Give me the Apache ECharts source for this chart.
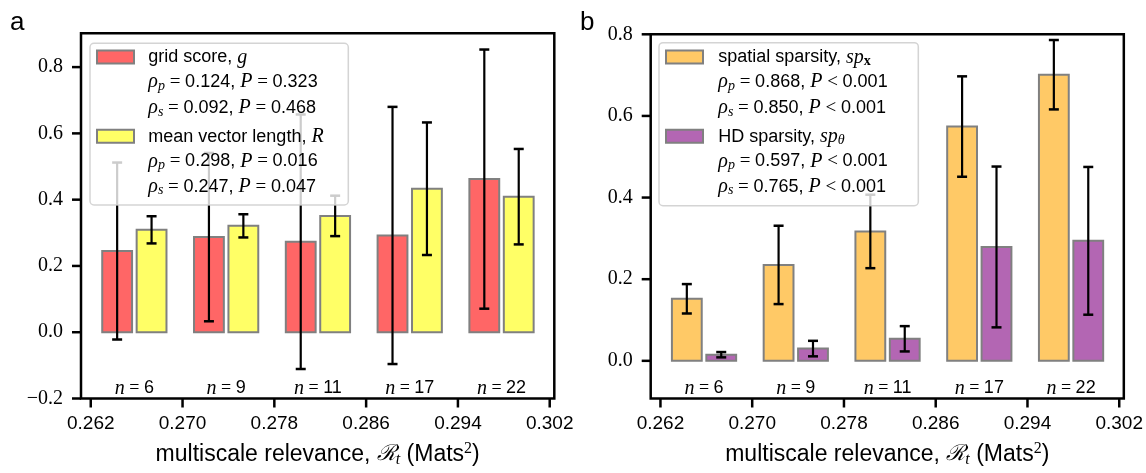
<!DOCTYPE html>
<html>
<head>
<meta charset="utf-8">
<script src="https://cdn.jsdelivr.net/npm/echarts@6/dist/echarts.min.js"></script>
<style>
html,body{margin:0;padding:0;background:#fff;}
#chart{width:1146px;height:473px;}
</style>
</head>
<body>
<div id="chart"></div>
<script>
// ---- data ----
const groupCenters = [0.2658, 0.2738, 0.2818, 0.2898, 0.2978];
const nCounts = [6, 9, 11, 17, 22];
const gridScore = [0.245, 0.287, 0.273, 0.292, 0.462];
const gridScoreErr = [0.267, 0.254, 0.384, 0.388, 0.391];
const meanVecLen = [0.309, 0.321, 0.351, 0.433, 0.409];
const meanVecLenErr = [0.041, 0.035, 0.061, 0.200, 0.144];
const spatialSparsity = [0.152, 0.235, 0.317, 0.574, 0.701];
const spatialSparsityErr = [0.036, 0.096, 0.090, 0.123, 0.085];
const hdSparsity = [0.015, 0.030, 0.054, 0.279, 0.294];
const hdSparsityErr = [0.0065, 0.019, 0.031, 0.197, 0.181];
const xTicks = [0.262, 0.270, 0.278, 0.286, 0.294, 0.302];
const yTicksA = [-0.2, 0, 0.2, 0.4, 0.6, 0.8];
const yTicksB = [0, 0.2, 0.4, 0.6, 0.8];
const statsA = [['0.124', '= 0.323', '0.092', '= 0.468'], ['0.298', '= 0.016', '0.247', '= 0.047']];
const statsB = [['0.868', '< 0.001', '0.850', '< 0.001'], ['0.597', '< 0.001', '0.765', '< 0.001']];

// ---- style ----
const SANS = 'Liberation Sans';
const SERIF = 'Liberation Serif';
const BAR_W = 0.0026, BAR_OFF = 0.0015;
const C_RED = '#ff6666', C_YEL = '#ffff66', C_ORA = '#ffc966', C_PUR = '#b366b3';
const X_MIN = 0.26115, X_MAX = 0.3024;
const Y_A = [-0.2, 0.902], Y_B = [-0.0923, 0.8];
const TICK_LEN = 9, TICK_W = 2.5;

const chart = echarts.init(document.getElementById('chart'), null, {renderer: 'canvas'});

function barSeries(ai, vals, offset, color) {
  return {
    type: 'custom', xAxisIndex: ai, yAxisIndex: ai, z: 2, clip: false,
    data: groupCenters.map((c, i) => [c + offset, vals[i]]),
    renderItem: (params, api) => {
      const x = api.value(0), y = api.value(1);
      const a = api.coord([x - BAR_W / 2, 0]);
      const b = api.coord([x + BAR_W / 2, y]);
      return {type: 'rect', shape: {x: a[0], y: Math.min(a[1], b[1]), width: b[0] - a[0], height: Math.abs(a[1] - b[1])},
        style: {fill: color, stroke: '#808080', lineWidth: 2}};
    }
  };
}
function errSeries(ai, vals, errs, offset) {
  return {
    type: 'custom', xAxisIndex: ai, yAxisIndex: ai, z: 3, clip: false,
    data: groupCenters.map((c, i) => [c + offset, vals[i], errs[i]]),
    renderItem: (params, api) => {
      const x = api.value(0), y = api.value(1), e = api.value(2);
      const t = api.coord([x, y + e]), b = api.coord([x, y - e]);
      return {type: 'group', children: [
        {type: 'line', shape: {x1: t[0], y1: t[1], x2: b[0], y2: b[1]}, style: {stroke: '#000', lineWidth: 2.2}},
        {type: 'line', shape: {x1: t[0] - 5, y1: t[1], x2: t[0] + 5, y2: t[1]}, style: {stroke: '#000', lineWidth: 2.5}},
        {type: 'line', shape: {x1: b[0] - 5, y1: b[1], x2: b[0] + 5, y2: b[1]}, style: {stroke: '#000', lineWidth: 2.5}}
      ]};
    }
  };
}
function nSeries(ai, yMin) {
  return {
    type: 'custom', xAxisIndex: ai, yAxisIndex: ai, z: 3, clip: false,
    data: groupCenters.map((c, i) => [c, nCounts[i]]),
    renderItem: (params, api) => {
      const p = api.coord([api.value(0), yMin]);
      return {type: 'text', x: p[0], y: p[1] - 10, style: {
        text: '{n|n}{e| = }{d|' + api.value(1) + '}', align: 'center', verticalAlign: 'middle',
        rich: {n: {fontFamily: SERIF, fontStyle: 'italic', fontSize: 20, lineHeight: 22},
               e: {fontFamily: SERIF, fontSize: 18, lineHeight: 22},
               d: {fontFamily: SANS, fontSize: 18, lineHeight: 22}}}};
    }
  };
}

const richLeg = {
  t: {fontFamily: SANS, fontSize: 18, lineHeight: 22, color: '#000'},
  mi: {fontFamily: SERIF, fontStyle: 'italic', fontSize: 20, lineHeight: 22, color: '#000'},
  eq: {fontFamily: SERIF, fontSize: 19, lineHeight: 22, color: '#000'},
  sub: {fontFamily: SERIF, fontStyle: 'italic', fontSize: 14, lineHeight: 14, padding: [8, 0, 0, 0], color: '#000'},
  subb: {fontFamily: SERIF, fontWeight: 'bold', fontSize: 14, lineHeight: 14, padding: [8, 0, 0, 0], color: '#000'}
};
function statRow(r, num, pv) {
  const op = pv.slice(0, 1), val = pv.slice(2);
  return '{mi|ρ}{sub|' + r + '}{eq| = }{t|' + num + ', }{mi|P}{eq| ' + op + ' }{t|' + val + '}';
}
function legendGraphics(box, patchX, textX, titles, colors, stats) {
  const rows = [57.5, 82.2, 108, 136.7, 161.3, 186.7];
  const g = [{type: 'rect', z: 100, shape: {x: box[0], y: box[1], width: box[2], height: box[3], r: 4},
    style: {fill: 'rgba(255,255,255,0.8)', stroke: 'rgba(204,204,204,0.85)', lineWidth: 1.5}}];
  [0, 1].forEach(k => {
    g.push({type: 'rect', z: 101, shape: {x: patchX, y: rows[k * 3] - 7, width: 37, height: 13},
      style: {fill: colors[k], stroke: '#808080', lineWidth: 2}});
    const texts = [titles[k], statRow('p', stats[k][0], stats[k][1]), statRow('s', stats[k][2], stats[k][3])];
    texts.forEach((tx, j) => g.push({type: 'text', z: 101, x: textX, y: rows[k * 3 + j],
      style: {text: tx, rich: richLeg, align: 'left', verticalAlign: 'middle'}}));
  });
  return g;
}

function xAxisDef(gi) {
  return {
    gridIndex: gi, type: 'value', min: X_MIN, max: X_MAX,
    axisLine: {show: false, onZero: false}, splitLine: {show: false},
    axisTick: {show: false},
    axisLabel: {customValues: xTicks, formatter: v => v.toFixed(3), fontFamily: SANS, fontSize: 19, color: '#000', margin: 16},
    name: '{t|multiscale relevance, }{R|ℛ}{s|t}{t| (Mats}{p|2}{t|)}',
    nameLocation: 'middle', nameGap: 43,
    nameTextStyle: {color: '#000', rich: {
      t: {fontFamily: SANS, fontSize: 23, lineHeight: 26, color: '#000'},
      R: {fontFamily: 'DejaVu Serif', fontStyle: 'italic', fontSize: 22, lineHeight: 26, color: '#000'},
      s: {fontFamily: SERIF, fontStyle: 'italic', fontSize: 16, lineHeight: 16, padding: [11, 0, 0, 0], color: '#000'},
      p: {fontFamily: SERIF, fontSize: 16, lineHeight: 16, padding: [0, 0, 11, 0], color: '#000'}
    }}
  };
}
function yAxisDef(gi, ext, ticks) {
  return {
    gridIndex: gi, type: 'value', min: ext[0], max: ext[1],
    axisLine: {show: false, onZero: false}, splitLine: {show: false},
    axisTick: {show: false},
    axisLabel: {customValues: ticks, formatter: v => (v < 0 ? '\u2212' : '') + Math.abs(v).toFixed(1),
      fontFamily: SERIF, fontSize: 20, color: '#000', margin: 18}
  };
}

const baseGraphics = [
  {type: 'text', x: 10, y: 23, style: {text: 'a', fontFamily: SANS, fontSize: 26, fill: '#000', verticalAlign: 'middle'}},
  {type: 'text', x: 580, y: 23, style: {text: 'b', fontFamily: SANS, fontSize: 26, fill: '#000', verticalAlign: 'middle'}},
  ...legendGraphics([90, 43.3, 258.3, 161.7], 97, 148.3,
    ['{t|grid score, }{mi|g}', '{t|mean vector length, }{mi|R}'], [C_RED, C_YEL], statsA),
  ...legendGraphics([659, 42.7, 259.3, 163], 666, 718.3,
    ['{t|spatial sparsity, }{mi|sp}{subb|x}', '{t|HD sparsity, }{mi|sp}{sub|θ}'], [C_ORA, C_PUR], statsB)
];

const option = {
  animation: false,
  grid: [
    {left: 81, right: 591.7, top: 33.3, bottom: 69, show: true, borderColor: '#000', borderWidth: 2.5, backgroundColor: 'transparent'},
    {left: 650.7, right: 21, top: 34.3, bottom: 69, show: true, borderColor: '#000', borderWidth: 2.5, backgroundColor: 'transparent'}
  ],
  xAxis: [xAxisDef(0), xAxisDef(1)],
  yAxis: [yAxisDef(0, Y_A, yTicksA), yAxisDef(1, Y_B, yTicksB)],
  series: [
    barSeries(0, gridScore, -BAR_OFF, C_RED),
    barSeries(0, meanVecLen, BAR_OFF, C_YEL),
    errSeries(0, gridScore, gridScoreErr, -BAR_OFF),
    errSeries(0, meanVecLen, meanVecLenErr, BAR_OFF),
    nSeries(0, Y_A[0]),
    barSeries(1, spatialSparsity, -BAR_OFF, C_ORA),
    barSeries(1, hdSparsity, BAR_OFF, C_PUR),
    errSeries(1, spatialSparsity, spatialSparsityErr, -BAR_OFF),
    errSeries(1, hdSparsity, hdSparsityErr, BAR_OFF),
    nSeries(1, Y_B[0])
  ],
  graphic: baseGraphics
};
chart.setOption(option);

// outward tick marks, positioned through the axes' own scales
function tickGraphics(gi, yTicks, yMin) {
  const out = [];
  xTicks.forEach(v => {
    const p = chart.convertToPixel({gridIndex: gi}, [v, yMin]);
    out.push({type: 'rect', z: 90, shape: {x: p[0] - TICK_W / 2, y: p[1], width: TICK_W, height: TICK_LEN}, style: {fill: '#000'}});
  });
  yTicks.forEach(v => {
    const p = chart.convertToPixel({gridIndex: gi}, [X_MIN, v]);
    out.push({type: 'rect', z: 90, shape: {x: p[0] - TICK_LEN, y: p[1] - TICK_W / 2, width: TICK_LEN, height: TICK_W}, style: {fill: '#000'}});
  });
  return out;
}
chart.setOption({graphic: baseGraphics.concat(tickGraphics(0, yTicksA, Y_A[0]), tickGraphics(1, yTicksB, Y_B[0]))}, {replaceMerge: ['graphic']});
</script>
</body>
</html>
